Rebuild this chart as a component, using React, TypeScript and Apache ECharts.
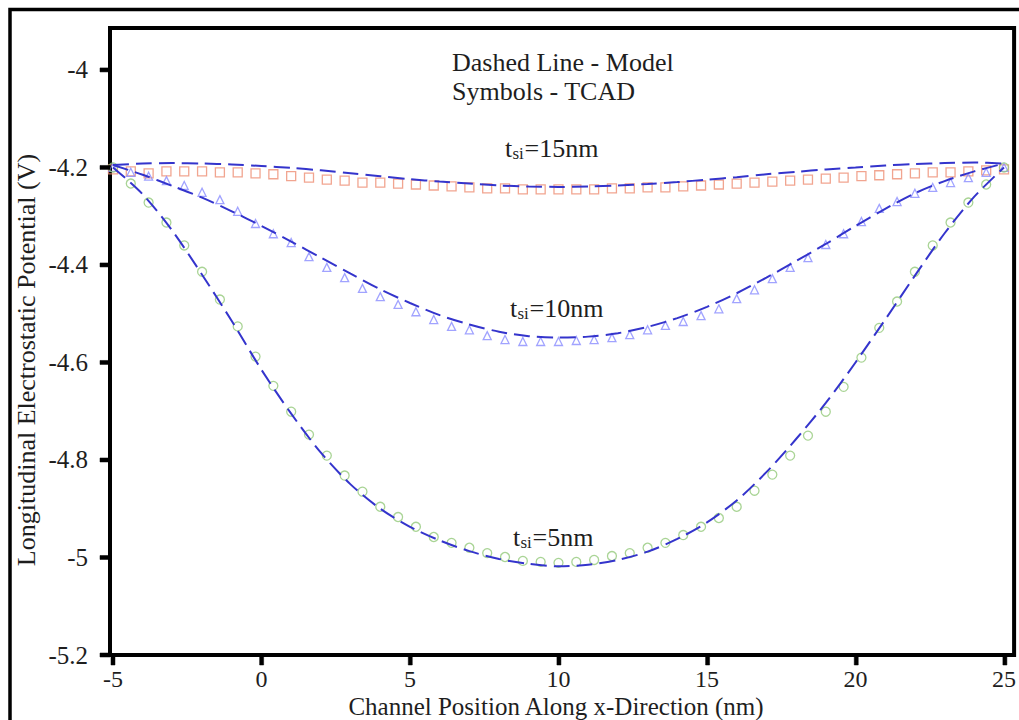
import React, { useEffect, useRef } from "react";
import * as echarts from "echarts";

// TCAD sample positions along the channel (nm)
const xTcad = [
  -5, -4.4, -3.8, -3.2, -2.6, -2, -1.4, -0.8, -0.2, 0.4, 1, 1.6, 2.2, 2.8, 3.4, 4, 4.6,
  5.2, 5.8, 6.4, 7, 7.6, 8.2, 8.8, 9.4, 10, 10.6, 11.2, 11.8, 12.4, 13, 13.6, 14.2, 14.8,
  15.4, 16, 16.6, 17.2, 17.8, 18.4, 19, 19.6, 20.2, 20.8, 21.4, 22, 22.6, 23.2, 23.8, 24.4, 25,
];

// TCAD potential (V), tsi = 15 nm (squares)
const tcad15 = [
  -4.204, -4.208, -4.212, -4.208, -4.208, -4.208, -4.21, -4.21, -4.212, -4.214, -4.218,
  -4.221, -4.225, -4.227, -4.231, -4.231, -4.233, -4.235, -4.237, -4.239, -4.241, -4.243,
  -4.243, -4.245, -4.245, -4.245, -4.245, -4.245, -4.243, -4.243, -4.241, -4.241, -4.239,
  -4.237, -4.235, -4.233, -4.231, -4.229, -4.227, -4.225, -4.223, -4.221, -4.218, -4.216,
  -4.214, -4.212, -4.21, -4.21, -4.208, -4.206, -4.204,
];

// TCAD potential (V), tsi = 10 nm (triangles)
const tcad10 = [
  -4.2, -4.21, -4.218, -4.227, -4.237, -4.251, -4.266, -4.29, -4.315, -4.336, -4.354,
  -4.383, -4.405, -4.426, -4.448, -4.465, -4.481, -4.496, -4.512, -4.526, -4.533, -4.545,
  -4.553, -4.557, -4.557, -4.557, -4.555, -4.553, -4.549, -4.543, -4.533, -4.524, -4.516,
  -4.504, -4.49, -4.469, -4.451, -4.428, -4.405, -4.385, -4.358, -4.336, -4.311, -4.284,
  -4.27, -4.253, -4.241, -4.231, -4.221, -4.21, -4.2,
];

// TCAD potential (V), tsi = 5 nm (circles)
const tcad5 = [
  -4.2, -4.233, -4.272, -4.313, -4.36, -4.414, -4.471, -4.526, -4.588, -4.648, -4.701,
  -4.748, -4.791, -4.832, -4.865, -4.896, -4.917, -4.937, -4.958, -4.97, -4.98, -4.991,
  -4.999, -5.007, -5.009, -5.011, -5.009, -5.005, -4.997, -4.991, -4.98, -4.97, -4.954,
  -4.937, -4.919, -4.896, -4.863, -4.83, -4.791, -4.75, -4.701, -4.65, -4.59, -4.529,
  -4.475, -4.414, -4.36, -4.313, -4.272, -4.235, -4.2,
];

// Model evaluation points (nm)
const xModel = [
  -5, -4, -3, -2, -1, 0, 1, 2, 3, 4, 5, 6, 7, 8, 9, 10, 11, 12, 13, 14, 15, 16, 17, 18,
  19, 20, 21, 22, 23, 24, 25,
];

const model15 = [
  -4.195, -4.192, -4.191, -4.192, -4.194, -4.197, -4.201, -4.206, -4.212, -4.218, -4.224,
  -4.229, -4.233, -4.237, -4.239, -4.24, -4.239, -4.237, -4.234, -4.23, -4.225, -4.22,
  -4.214, -4.209, -4.204, -4.2, -4.196, -4.193, -4.191, -4.19, -4.192,
];

const model10 = [
  -4.195, -4.215, -4.238, -4.262, -4.29, -4.32, -4.352, -4.385, -4.418, -4.45, -4.478,
  -4.503, -4.522, -4.537, -4.546, -4.549, -4.547, -4.54, -4.527, -4.509, -4.486, -4.458,
  -4.426, -4.392, -4.357, -4.32, -4.285, -4.253, -4.228, -4.208, -4.192,
];

const model5 = [
  -4.2, -4.255, -4.33, -4.42, -4.515, -4.615, -4.705, -4.785, -4.85, -4.9, -4.937, -4.965,
  -4.987, -5.003, -5.013, -5.018, -5.015, -5.005, -4.988, -4.962, -4.928, -4.883, -4.825,
  -4.757, -4.683, -4.6, -4.512, -4.422, -4.335, -4.26, -4.2,
];

const xTicks = [-5, 0, 5, 10, 15, 20, 25];
const yTicks = [-5.2, -5, -4.8, -4.6, -4.4, -4.2, -4];

const X_MIN = -5.1;
const X_MAX = 25.34;
const Y_MIN = -5.2;
const Y_MAX = -3.914;

const WIDTH = 1019;
const HEIGHT = 720;
const GRID = { left: 110, right: 4, top: 28, bottom: 65 };

const SERIF = "'Liberation Serif', 'Times New Roman', serif";
const MODEL_COLOR = "#3434cc";
const TEXT_COLOR = "#1e1e1e";

const pairs = (xs: number[], ys: number[]) => xs.map((x, i) => [x, ys[i]]);

// Linear axis mapping matching the grid layout
const plotW = WIDTH - GRID.left - GRID.right;
const plotH = HEIGHT - GRID.top - GRID.bottom;
const xPix = (v: number) => GRID.left + ((v - X_MIN) / (X_MAX - X_MIN)) * plotW;
const yPix = (v: number) => GRID.top + ((Y_MAX - v) / (Y_MAX - Y_MIN)) * plotH;

const tsiLabel = (id: string, x: number, y: number, rest: string) => ({
  id,
  type: "group",
  x,
  y,
  children: [
    {
      type: "text",
      x: 0,
      y: 0,
      style: { text: "t", font: `26px ${SERIF}`, fill: TEXT_COLOR, verticalAlign: "middle" },
    },
    {
      type: "text",
      x: 7.5,
      y: 5,
      style: { text: "si", font: `17px ${SERIF}`, fill: TEXT_COLOR, verticalAlign: "middle" },
    },
    {
      type: "text",
      x: 19.5,
      y: 0,
      style: { text: rest, font: `26px ${SERIF}`, fill: TEXT_COLOR, verticalAlign: "middle" },
    },
  ],
});

export default function App() {
  const ref = useRef<HTMLDivElement>(null);

  useEffect(() => {
    if (!ref.current) return;
    const chart = echarts.init(ref.current, undefined, { renderer: "svg" });

    const tcadSeries = (data: number[], symbol: string, color: string, size: number) => ({
      type: "scatter",
      data: pairs(xTcad, data),
      symbol,
      symbolSize: size,
      itemStyle: { color: "rgba(255,255,255,0)", borderColor: color, borderWidth: 1.3 },
      z: 2,
    });

    const modelSeries = (data: number[]) => ({
      type: "line",
      data: pairs(xModel, data),
      showSymbol: false,
      smooth: 0.3,
      lineStyle: { color: MODEL_COLOR, width: 2, type: [16, 7] },
      z: 3,
    });

    // Outward tick marks on the bottom and left edges of the plot frame
    const xBase = yPix(Y_MIN);
    const yBase = xPix(X_MIN);
    const tickRects: any[] = [
      ...xTicks.map((v) => ({
        type: "rect",
        silent: true,
        z: 100,
        shape: { x: xPix(v) - 2, y: xBase, width: 4, height: 10 },
        style: { fill: "#000000", stroke: "#000000", lineWidth: 0.5 },
      })),
      ...yTicks.map((v) => ({
        type: "rect",
        silent: true,
        z: 100,
        shape: { x: yBase - 10, y: yPix(v) - 2, width: 10, height: 4 },
        style: { fill: "#000000", stroke: "#000000", lineWidth: 0.5 },
      })),
    ];

    chart.setOption({
      animation: false,
      backgroundColor: "#ffffff",
      grid: {
        ...GRID,
        show: true,
        borderColor: "#000",
        borderWidth: 4,
        backgroundColor: "transparent",
      },
      xAxis: {
        type: "value",
        min: X_MIN,
        max: X_MAX,
        axisLine: { show: false, onZero: false },
        splitLine: { show: false },
        axisTick: { show: false },
        axisLabel: {
          customValues: xTicks,
          margin: 12,
          fontFamily: SERIF,
          fontSize: 24,
          color: TEXT_COLOR,
        },
      },
      yAxis: {
        type: "value",
        min: Y_MIN,
        max: Y_MAX,
        axisLine: { show: false, onZero: false },
        splitLine: { show: false },
        axisTick: { show: false },
        axisLabel: {
          customValues: yTicks,
          margin: 22,
          fontFamily: SERIF,
          fontSize: 25,
          color: TEXT_COLOR,
        },
      },
      series: [
        tcadSeries(tcad15, "rect", "#ee8f74", 9),
        tcadSeries(tcad10, "triangle", "#8a8cff", 8),
        tcadSeries(tcad5, "circle", "#93c97a", 9),
        modelSeries(model15),
        modelSeries(model10),
        modelSeries(model5),
      ],
      graphic: [
        {
          type: "rect",
          shape: { x: 10, y: 9.5, width: 1200, height: 900 },
          style: { fill: "none", stroke: "#000", lineWidth: 3.5 },
          silent: true,
        },
        ...tickRects,
        {
          type: "text",
          x: 452,
          y: 62,
          style: {
            text: "Dashed Line - Model",
            font: `26px ${SERIF}`,
            fill: TEXT_COLOR,
            verticalAlign: "middle",
          },
        },
        {
          type: "text",
          x: 452,
          y: 91,
          style: {
            text: "Symbols - TCAD",
            font: `26px ${SERIF}`,
            fill: TEXT_COLOR,
            verticalAlign: "middle",
          },
        },
        tsiLabel("t15", 505, 148, "=15nm"),
        tsiLabel("t10", 510, 308, "=10nm"),
        tsiLabel("t5", 513, 537, "=5nm"),
        {
          type: "text",
          x: 556,
          y: 706,
          style: {
            text: "Channel Position Along x-Direction (nm)",
            font: `25px ${SERIF}`,
            fill: TEXT_COLOR,
            align: "center",
            verticalAlign: "middle",
          },
        },
        {
          type: "text",
          x: 26,
          y: 360,
          rotation: Math.PI / 2,
          style: {
            text: "Longitudinal Electrostatic Potential (V)",
            font: `26px ${SERIF}`,
            fill: TEXT_COLOR,
            align: "center",
            verticalAlign: "middle",
          },
        },
      ],
    });

    return () => chart.dispose();
  }, []);

  return (
    <div
      ref={ref}
      style={{
        position: "fixed",
        left: 0,
        top: 0,
        width: WIDTH,
        height: HEIGHT,
        background: "#fff",
      }}
    />
  );
}
